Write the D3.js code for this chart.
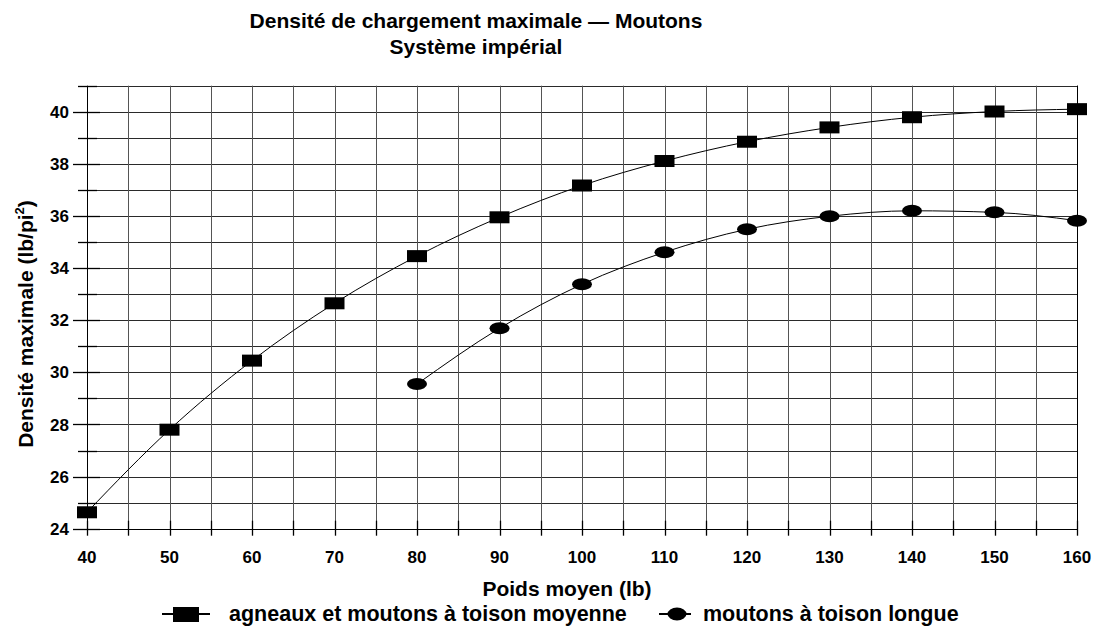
<!DOCTYPE html>
<html>
<head>
<meta charset="utf-8">
<script src="https://cdn.jsdelivr.net/npm/d3@7.9.0/dist/d3.min.js"></script>
<style>
  body { margin: 0; background: #fff; }
  svg { display: block; font-family: "Liberation Sans", Arial, sans-serif; font-weight: bold; }
</style>
</head>
<body>
<svg id="chart" width="1099" height="626"></svg>
<script>
// Data
const weights = [40, 50, 60, 70, 80, 90, 100, 110, 120, 130, 140, 150, 160];
const mediumFleece = [24.63, 27.8, 30.45, 32.65, 34.46, 35.95, 37.17, 38.11, 38.85, 39.4, 39.79, 40.01, 40.1];
const longFleeceWeights = [80, 90, 100, 110, 120, 130, 140, 150, 160];
const longFleece = [29.55, 31.69, 33.38, 34.61, 35.49, 35.99, 36.2, 36.14, 35.82];
const xTicks = d3.range(40, 161, 10);
const yTicks = d3.range(24, 41, 2);
const seriesNames = ['agneaux et moutons à toison moyenne', 'moutons à toison longue'];

const svg = d3.select('#chart');

// Scales
const x = d3.scaleLinear().domain([40, 160]).range([87, 1077]);
const y = d3.scaleLinear().domain([24, 41]).range([528.7, 85.7]);

const px = (v) => Math.round(v) + 0.5;

// Grid
const grid = svg.append('g');
grid.selectAll('line.h')
  .data(d3.range(25, 42, 1))
  .join('line')
  .attr('x1', x(40)).attr('x2', x(160))
  .attr('y1', (d) => px(y(d))).attr('y2', (d) => px(y(d)))
  .attr('stroke', '#2a2a2a');
grid.selectAll('line.v')
  .data(d3.range(45, 161, 5))
  .join('line')
  .attr('x1', (d) => px(x(d))).attr('x2', (d) => px(x(d)))
  .attr('y1', y(41)).attr('y2', y(24))
  .attr('stroke', '#555');

// Y axis
const yAxis = svg.append('g');
yAxis.append('line')
  .attr('x1', px(x(40))).attr('x2', px(x(40)))
  .attr('y1', y(41)).attr('y2', y(24))
  .attr('stroke', '#000');
yAxis.selectAll('line.tick')
  .data(d3.range(24, 42, 1))
  .join('line')
  .attr('x1', (d) => x(40) - (d % 2 === 0 ? 14 : 9))
  .attr('x2', (d) => x(40) + (d % 2 === 0 ? 13 : 10))
  .attr('y1', (d) => px(y(d))).attr('y2', (d) => px(y(d)))
  .attr('stroke', '#000')
  .attr('stroke-width', 1.3);
yAxis.selectAll('text')
  .data(yTicks)
  .join('text')
  .attr('x', 69)
  .attr('y', (d) => y(d))
  .attr('dy', '0.36em')
  .attr('text-anchor', 'end')
  .attr('font-size', 17)
  .text((d) => d);

// X axis
const xAxis = svg.append('g');
xAxis.append('line')
  .attr('x1', x(40)).attr('x2', x(160))
  .attr('y1', px(y(24))).attr('y2', px(y(24)))
  .attr('stroke', '#000');
xAxis.selectAll('line.tick')
  .data(d3.range(40, 161, 5))
  .join('line')
  .attr('x1', (d) => px(x(d))).attr('x2', (d) => px(x(d)))
  .attr('y1', y(24) - 8).attr('y2', y(24) + 7)
  .attr('stroke', '#000')
  .attr('stroke-width', 1.3);
xAxis.selectAll('text')
  .data(xTicks)
  .join('text')
  .attr('x', (d) => x(d))
  .attr('y', 563)
  .attr('text-anchor', 'middle')
  .attr('font-size', 17)
  .text((d) => d);

// Right border
svg.append('line')
  .attr('x1', px(x(160))).attr('x2', px(x(160)))
  .attr('y1', y(41)).attr('y2', y(24))
  .attr('stroke', '#000');

// Lines
const line = d3.line()
  .x((d) => x(d[0]))
  .y((d) => y(d[1]))
  .curve(d3.curveMonotoneX);

const dataA = weights.map((w, i) => [w, mediumFleece[i]]);
const dataB = longFleeceWeights.map((w, i) => [w, longFleece[i]]);

svg.append('path').attr('d', line(dataA)).attr('fill', 'none').attr('stroke', '#000').attr('stroke-width', 1);
svg.append('path').attr('d', line(dataB)).attr('fill', 'none').attr('stroke', '#000').attr('stroke-width', 1);

svg.selectAll('rect.mark')
  .data(dataA)
  .join('rect')
  .attr('x', (d) => x(d[0]) - 10)
  .attr('y', (d) => y(d[1]) - 6)
  .attr('width', 20)
  .attr('height', 12)
  .attr('fill', '#000');

svg.selectAll('ellipse.mark')
  .data(dataB)
  .join('ellipse')
  .attr('cx', (d) => x(d[0]))
  .attr('cy', (d) => y(d[1]))
  .attr('rx', 10)
  .attr('ry', 6)
  .attr('fill', '#000');

// Titles
svg.append('text')
  .attr('x', 476).attr('y', 28)
  .attr('text-anchor', 'middle')
  .attr('font-size', 21)
  .text('Densité de chargement maximale — Moutons');
svg.append('text')
  .attr('x', 476).attr('y', 54)
  .attr('text-anchor', 'middle')
  .attr('font-size', 21)
  .text('Système impérial');

svg.append('text')
  .attr('x', 567).attr('y', 596)
  .attr('text-anchor', 'middle')
  .attr('font-size', 21)
  .text('Poids moyen (lb)');

const yLabel = svg.append('text')
  .attr('transform', 'translate(33,324) rotate(-90)')
  .attr('text-anchor', 'middle')
  .attr('font-size', 21);
yLabel.append('tspan').text('Densité maximale (lb/pi');
yLabel.append('tspan').attr('font-size', 13).attr('dy', -9).text('2');
yLabel.append('tspan').attr('dy', 9).text(')');

// Legend
const legendY = 614;
const leg1 = svg.append('g');
leg1.append('line').attr('x1', 162).attr('x2', 210).attr('y1', legendY).attr('y2', legendY).attr('stroke', '#000').attr('stroke-width', 2);
leg1.append('rect').attr('x', 173).attr('y', legendY - 7).attr('width', 26).attr('height', 15).attr('fill', '#000');
leg1.append('text').attr('x', 229).attr('y', legendY + 7).attr('font-size', 21.5).text(seriesNames[0]);

const leg2 = svg.append('g');
leg2.append('line').attr('x1', 659).attr('x2', 691).attr('y1', legendY).attr('y2', legendY).attr('stroke', '#000').attr('stroke-width', 2);
leg2.append('ellipse').attr('cx', 677).attr('cy', legendY).attr('rx', 9.5).attr('ry', 6.5).attr('fill', '#000');
leg2.append('text').attr('x', 703).attr('y', legendY + 7).attr('font-size', 21.5).text(seriesNames[1]);
</script>
</body>
</html>
